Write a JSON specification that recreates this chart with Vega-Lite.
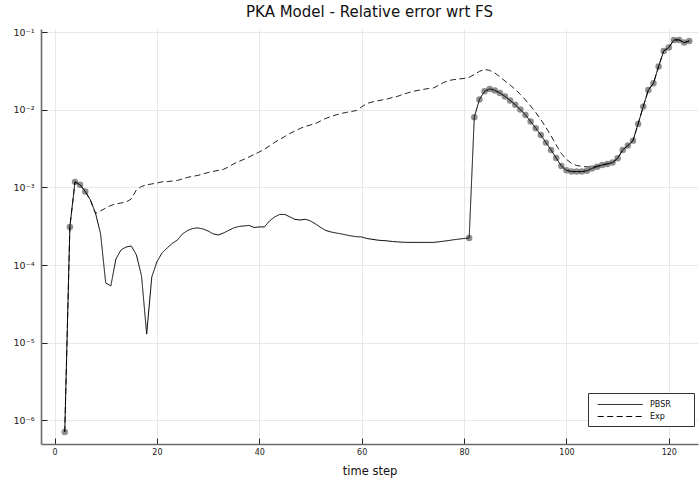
{
"$schema":"https://vega.github.io/schema/vega-lite/v6.json",
"width":657,"height":415,
"autosize":{"type":"none"},
"padding":{"left":41,"top":29,"right":2,"bottom":35},
"title":{"text":"PKA Model - Relative error wrt FS","fontSize":15,"fontWeight":"normal","font":"DejaVu Sans","color":"#111","anchor":"middle","baseline":"alphabetic","offset":12,"dy":17},
"datasets":{
"pbsr":[
{"t":2,"v":7.06e-7,"m":1},{"t":3,"v":3.10e-4,"m":1},{"t":4,"v":1.18e-3,"m":1},{"t":5,"v":1.08e-3,"m":1},{"t":6,"v":8.88e-4,"m":1},
{"t":7,"v":6.90e-4,"m":0},{"t":8,"v":4.69e-4,"m":0},{"t":9,"v":2.52e-4,"m":0},{"t":10,"v":5.88e-5,"m":0},{"t":11,"v":5.38e-5,"m":0},
{"t":12,"v":1.20e-4,"m":0},{"t":13,"v":1.57e-4,"m":0},{"t":14,"v":1.71e-4,"m":0},{"t":15,"v":1.76e-4,"m":0},{"t":16,"v":1.35e-4,"m":0},
{"t":17,"v":7.24e-5,"m":0},{"t":18,"v":1.29e-5,"m":0},{"t":19,"v":7.03e-5,"m":0},{"t":20,"v":1.10e-4,"m":0},{"t":21,"v":1.43e-4,"m":0},
{"t":22,"v":1.66e-4,"m":0},{"t":23,"v":1.90e-4,"m":0},{"t":24,"v":2.10e-4,"m":0},{"t":25,"v":2.52e-4,"m":0},{"t":26,"v":2.79e-4,"m":0},
{"t":27,"v":2.96e-4,"m":0},{"t":28,"v":3.01e-4,"m":0},{"t":29,"v":2.92e-4,"m":0},{"t":30,"v":2.75e-4,"m":0},{"t":31,"v":2.52e-4,"m":0},
{"t":32,"v":2.44e-4,"m":0},{"t":33,"v":2.59e-4,"m":0},{"t":34,"v":2.79e-4,"m":0},{"t":35,"v":3.01e-4,"m":0},{"t":36,"v":3.14e-4,"m":0},
{"t":37,"v":3.19e-4,"m":0},{"t":38,"v":3.24e-4,"m":0},{"t":39,"v":3.05e-4,"m":0},{"t":40,"v":3.10e-4,"m":0},{"t":41,"v":3.10e-4,"m":0},
{"t":42,"v":3.70e-4,"m":0},{"t":43,"v":4.17e-4,"m":0},{"t":44,"v":4.49e-4,"m":0},{"t":45,"v":4.49e-4,"m":0},{"t":46,"v":4.17e-4,"m":0},
{"t":47,"v":3.87e-4,"m":0},{"t":48,"v":3.81e-4,"m":0},{"t":49,"v":3.89e-4,"m":0},{"t":50,"v":3.70e-4,"m":0},{"t":51,"v":3.39e-4,"m":0},
{"t":52,"v":3.05e-4,"m":0},{"t":53,"v":2.79e-4,"m":0},{"t":54,"v":2.67e-4,"m":0},{"t":55,"v":2.59e-4,"m":0},{"t":56,"v":2.52e-4,"m":0},
{"t":57,"v":2.44e-4,"m":0},{"t":58,"v":2.37e-4,"m":0},{"t":59,"v":2.32e-4,"m":0},{"t":60,"v":2.30e-4,"m":0},{"t":61,"v":2.20e-4,"m":0},
{"t":62,"v":2.15e-4,"m":0},{"t":63,"v":2.10e-4,"m":0},{"t":64,"v":2.07e-4,"m":0},{"t":65,"v":2.05e-4,"m":0},{"t":66,"v":2.01e-4,"m":0},
{"t":67,"v":1.99e-4,"m":0},{"t":68,"v":1.97e-4,"m":0},{"t":69,"v":1.96e-4,"m":0},{"t":70,"v":1.96e-4,"m":0},{"t":71,"v":1.96e-4,"m":0},
{"t":72,"v":1.96e-4,"m":0},{"t":73,"v":1.96e-4,"m":0},{"t":74,"v":1.96e-4,"m":0},{"t":75,"v":1.99e-4,"m":0},{"t":76,"v":2.03e-4,"m":0},
{"t":77,"v":2.07e-4,"m":0},{"t":78,"v":2.12e-4,"m":0},{"t":79,"v":2.16e-4,"m":0},{"t":80,"v":2.20e-4,"m":0},{"t":81,"v":2.23e-4,"m":1},
{"t":82,"v":8.04e-3,"m":1},{"t":83,"v":1.36e-2,"m":1},{"t":84,"v":1.73e-2,"m":1},{"t":85,"v":1.86e-2,"m":1},{"t":86,"v":1.78e-2,"m":1},
{"t":87,"v":1.65e-2,"m":1},{"t":88,"v":1.49e-2,"m":1},{"t":89,"v":1.32e-2,"m":1},{"t":90,"v":1.16e-2,"m":1},{"t":91,"v":1.01e-2,"m":1},
{"t":92,"v":8.59e-3,"m":1},{"t":93,"v":7.09e-3,"m":1},{"t":94,"v":5.80e-3,"m":1},{"t":95,"v":4.75e-3,"m":1},{"t":96,"v":3.78e-3,"m":1},
{"t":97,"v":3.04e-3,"m":1},{"t":98,"v":2.40e-3,"m":1},{"t":99,"v":1.89e-3,"m":1},{"t":100,"v":1.66e-3,"m":1},{"t":101,"v":1.60e-3,"m":1},
{"t":102,"v":1.60e-3,"m":1},{"t":103,"v":1.60e-3,"m":1},{"t":104,"v":1.64e-3,"m":1},{"t":105,"v":1.76e-3,"m":1},{"t":106,"v":1.85e-3,"m":1},
{"t":107,"v":1.95e-3,"m":1},{"t":108,"v":2.01e-3,"m":1},{"t":109,"v":2.09e-3,"m":1},{"t":110,"v":2.38e-3,"m":1},{"t":111,"v":3.04e-3,"m":1},
{"t":112,"v":3.46e-3,"m":1},{"t":113,"v":4.01e-3,"m":1},{"t":114,"v":6.58e-3,"m":1},{"t":115,"v":1.10e-2,"m":1},{"t":116,"v":1.80e-2,"m":1},
{"t":117,"v":2.20e-2,"m":1},{"t":118,"v":3.61e-2,"m":1},{"t":119,"v":5.74e-2,"m":1},{"t":120,"v":6.34e-2,"m":1},{"t":121,"v":7.96e-2,"m":1},
{"t":122,"v":7.96e-2,"m":1},{"t":123,"v":7.35e-2,"m":1},{"t":124,"v":7.72e-2,"m":1}
],
"exp":[
{"t":2,"v":7.06e-7},{"t":3,"v":3.10e-4},{"t":4,"v":1.18e-3},{"t":5,"v":1.08e-3},{"t":6,"v":8.88e-4},{"t":7,"v":6.90e-4},
{"t":8,"v":4.62e-4},{"t":9,"v":4.98e-4},{"t":10,"v":5.44e-4},{"t":11,"v":5.86e-4},{"t":12,"v":6.13e-4},{"t":13,"v":6.31e-4},
{"t":14,"v":6.50e-4},{"t":15,"v":7.11e-4},{"t":16,"v":9.29e-4},{"t":17,"v":1.03e-3},{"t":18,"v":1.08e-3},{"t":19,"v":1.11e-3},
{"t":20,"v":1.14e-3},{"t":21,"v":1.18e-3},{"t":22,"v":1.19e-3},{"t":23,"v":1.21e-3},{"t":24,"v":1.23e-3},{"t":25,"v":1.29e-3},
{"t":26,"v":1.35e-3},{"t":27,"v":1.39e-3},{"t":28,"v":1.43e-3},{"t":29,"v":1.49e-3},{"t":30,"v":1.56e-3},{"t":31,"v":1.61e-3},
{"t":32,"v":1.66e-3},{"t":33,"v":1.71e-3},{"t":34,"v":1.84e-3},{"t":35,"v":2.01e-3},{"t":36,"v":2.16e-3},{"t":37,"v":2.30e-3},
{"t":38,"v":2.47e-3},{"t":39,"v":2.66e-3},{"t":40,"v":2.87e-3},{"t":41,"v":3.09e-3},{"t":42,"v":3.43e-3},{"t":43,"v":3.80e-3},
{"t":44,"v":4.16e-3},{"t":45,"v":4.54e-3},{"t":46,"v":4.97e-3},{"t":47,"v":5.35e-3},{"t":48,"v":5.76e-3},{"t":49,"v":6.11e-3},
{"t":50,"v":6.39e-3},{"t":51,"v":6.68e-3},{"t":52,"v":7.19e-3},{"t":53,"v":7.75e-3},{"t":54,"v":8.22e-3},{"t":55,"v":8.59e-3},
{"t":56,"v":8.99e-3},{"t":57,"v":9.25e-3},{"t":58,"v":9.53e-3},{"t":59,"v":9.82e-3},{"t":60,"v":1.09e-2},{"t":61,"v":1.21e-2},
{"t":62,"v":1.26e-2},{"t":63,"v":1.30e-2},{"t":64,"v":1.34e-2},{"t":65,"v":1.38e-2},{"t":66,"v":1.44e-2},{"t":67,"v":1.49e-2},
{"t":68,"v":1.58e-2},{"t":69,"v":1.65e-2},{"t":70,"v":1.73e-2},{"t":71,"v":1.78e-2},{"t":72,"v":1.83e-2},{"t":73,"v":1.88e-2},
{"t":74,"v":1.91e-2},{"t":75,"v":2.06e-2},{"t":76,"v":2.25e-2},{"t":77,"v":2.38e-2},{"t":78,"v":2.45e-2},{"t":79,"v":2.50e-2},
{"t":80,"v":2.54e-2},{"t":81,"v":2.62e-2},{"t":82,"v":2.86e-2},{"t":83,"v":3.13e-2},{"t":84,"v":3.32e-2},{"t":85,"v":3.22e-2},
{"t":86,"v":2.99e-2},{"t":87,"v":2.66e-2},{"t":88,"v":2.35e-2},{"t":89,"v":2.09e-2},{"t":90,"v":1.83e-2},{"t":91,"v":1.58e-2},
{"t":92,"v":1.34e-2},{"t":93,"v":1.12e-2},{"t":94,"v":9.25e-3},{"t":95,"v":7.51e-3},{"t":96,"v":5.93e-3},{"t":97,"v":4.61e-3},
{"t":98,"v":3.53e-3},{"t":99,"v":2.74e-3},{"t":100,"v":2.30e-3},{"t":101,"v":2.04e-3},{"t":102,"v":1.92e-3},{"t":103,"v":1.87e-3},
{"t":104,"v":1.84e-3},{"t":105,"v":1.84e-3},{"t":106,"v":1.88e-3},{"t":107,"v":1.95e-3},{"t":108,"v":2.01e-3},{"t":109,"v":2.09e-3},
{"t":110,"v":2.38e-3},{"t":111,"v":3.04e-3},{"t":112,"v":3.46e-3},{"t":113,"v":4.01e-3},{"t":114,"v":6.58e-3},{"t":115,"v":1.10e-2},
{"t":116,"v":1.80e-2},{"t":117,"v":2.20e-2},{"t":118,"v":3.61e-2},{"t":119,"v":5.74e-2},{"t":120,"v":6.34e-2},{"t":121,"v":7.96e-2},
{"t":122,"v":7.96e-2},{"t":123,"v":7.35e-2},{"t":124,"v":7.72e-2}
]},
"layer":[
{"data":{"name":"pbsr"},"transform":[{"filter":"datum.m == 1"}],
 "mark":{"type":"point","filled":true,"color":"#444","opacity":0.6,"size":42},
 "encoding":{"x":{"field":"t","type":"quantitative"},"y":{"field":"v","type":"quantitative"}}},
{"data":{"name":"exp"},"transform":[{"calculate":"'Exp'","as":"s"}],
 "mark":{"type":"line","color":"#222","strokeWidth":1,"clip":true},
 "encoding":{"x":{"field":"t","type":"quantitative"},"y":{"field":"v","type":"quantitative"},
  "strokeDash":{"field":"s","type":"nominal","scale":{"domain":["PBSR","Exp"],"range":[[1,0],[6,3.5]]},
   "legend":{"title":null,"labelExpr":"datum.label + '\u2800\u2800\u2800'"}}}},
{"data":{"name":"pbsr"},"transform":[{"calculate":"'PBSR'","as":"s"}],
 "mark":{"type":"line","color":"#000","strokeWidth":1,"clip":true},
 "encoding":{
  "x":{"field":"t","type":"quantitative","scale":{"domain":[-2.64,125.7],"nice":false,"zero":false},
   "axis":{"values":[0,20,40,60,80,100,120],"title":"time step","format":"d","labelPadding":10,"titlePadding":9}},
  "y":{"field":"v","type":"quantitative","scale":{"type":"log","domain":[4.95e-7,0.11],"nice":false},
   "axis":{"values":[1e-6,1e-5,1e-4,1e-3,1e-2,1e-1],"title":null,"labelPadding":13,"labelFontSize":9.5,
    "labelExpr":"['10⁰','10⁻¹','10⁻²','10⁻³','10⁻⁴','10⁻⁵','10⁻⁶'][round(-log(datum.value)/LN10)]"}},
  "strokeDash":{"field":"s","type":"nominal","legend":{"title":null,"labelExpr":"datum.label + '\u2800\u2800\u2800'"}}}}
],
"config":{
 "font":"DejaVu Sans",
 "view":{"stroke":null},
 "axis":{"domainColor":"#6a6a6a","domainWidth":1.6,"tickColor":"#222","tickSize":-6,"tickWidth":1,
  "gridColor":"#e8e8e8","gridWidth":1,"labelColor":"#222","labelFontSize":8,
  "titleFontSize":11.5,"titleFontWeight":"normal","titleColor":"#111"},
 "legend":{"orient":"none","legendX":547,"legendY":364,"strokeColor":"#333","fillColor":"white","padding":5,
  "symbolType":"M-0.3,0H7.2","symbolSize":144,"symbolStrokeWidth":1,"symbolStrokeColor":"#000",
  "labelFontSize":8,"labelOffset":44,"rowPadding":1,"labelColor":"#111"}
}
}
